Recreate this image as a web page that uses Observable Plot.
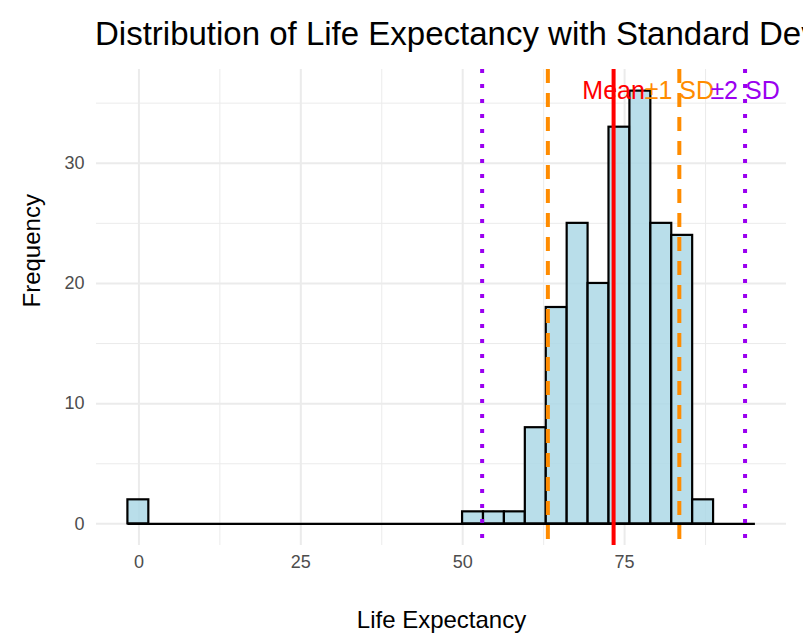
<!DOCTYPE html>
<html><head><meta charset="utf-8">
<script src="https://cdn.jsdelivr.net/npm/d3@7"></script>
<script src="https://cdn.jsdelivr.net/npm/@observablehq/plot@0.6"></script>
<style>
body{margin:0;background:#fff;font-family:"Liberation Sans",Arial,sans-serif;overflow:hidden}
#title{height:58px;font-size:33px;line-height:33px;padding:17px 0 0 95px;box-sizing:border-box;white-space:nowrap;color:#000}
</style></head>
<body>
<div id="title">Distribution of Life Expectancy with Standard Deviations</div>
<div id="chart"></div>
<script>
// histogram: 30 bins starting at -1.7, width 3.23
const binStart = -1.7
const binWidth = 3.23
const counts = [2,0,0,0,0,0,0,0,0,0,0,0,0,0,0,0,1,1,1,8,18,25,20,33,36,25,24,2,0,0]
const meanLE = 73.3
const sdLE = 10.15

const bins = counts.map((c, i) => ({x1: binStart + i*binWidth, x2: binStart + (i+1)*binWidth, n: c}))
const xMajor = [0, 25, 50, 75]
const xMinor = [12.5, 37.5, 62.5, 87.5]
const yMajor = [0, 10, 20, 30]
const yMinor = [5, 15, 25, 35]
const lines = [
  {x: meanLE, color: "red", dash: null},
  {x: meanLE - sdLE, color: "darkorange", dash: "14,10"},
  {x: meanLE + sdLE, color: "darkorange", dash: "14,10"},
  {x: meanLE - 2*sdLE, color: "#9a00f0", dash: "4,11"},
  {x: meanLE + 2*sdLE, color: "#9a00f0", dash: "4,11"}
]
const labels = [
  {x: meanLE, text: "Mean", color: "red"},
  {x: meanLE + sdLE, text: "±1 SD", color: "darkorange"},
  {x: meanLE + 2*sdLE, text: "±2 SD", color: "#9a00f0"}
]

const chart = Plot.plot({
  width: 803, height: 580,
  marginTop: 11, marginBottom: 93, marginLeft: 96, marginRight: 17,
  style: {fontFamily: "Liberation Sans, Arial, sans-serif", overflow: "visible"},
  x: {domain: [-6.55, 100]},
  y: {domain: [-1.8, 37.8]},
  marks: [
    Plot.ruleX(xMinor, {stroke: "#ebebeb", strokeWidth: 1}),
    Plot.ruleY(yMinor, {stroke: "#ebebeb", strokeWidth: 1}),
    Plot.ruleX(xMajor, {stroke: "#ebebeb", strokeWidth: 2}),
    Plot.ruleY(yMajor, {stroke: "#ebebeb", strokeWidth: 2}),
    Plot.ruleY([0], {x1: bins[0].x1, x2: bins[bins.length - 1].x2, stroke: "black", strokeWidth: 2.2}),
    Plot.rect(bins.filter(d => d.n > 0), {x1: "x1", x2: "x2", y1: 0, y2: "n", fill: "lightblue", fillOpacity: 0.85, stroke: "black", strokeWidth: 2.2}),
    ...lines.map(l => Plot.ruleX([l.x], {stroke: l.color, strokeWidth: 4, strokeDasharray: l.dash})),
    Plot.text(labels, {x: "x", y: 36, text: "text", fill: "color", fontSize: 25, textAnchor: "middle"}),
    Plot.axisX(xMajor, {tickSize: 0, fontSize: 18, color: "#4d4d4d", tickPadding: 10, label: null}),
    Plot.axisY(yMajor, {tickSize: 0, fontSize: 18, color: "#4d4d4d", tickPadding: 12, label: null}),
    Plot.text(["Life Expectancy"], {frameAnchor: "bottom", dy: 82, fontSize: 24, fill: "#000"}),
    Plot.text(["Frequency"], {frameAnchor: "left", dx: -64, rotate: -90, fontSize: 24, fill: "#000"})
  ]
})
document.getElementById("chart").append(chart)
</script>
</body></html>
